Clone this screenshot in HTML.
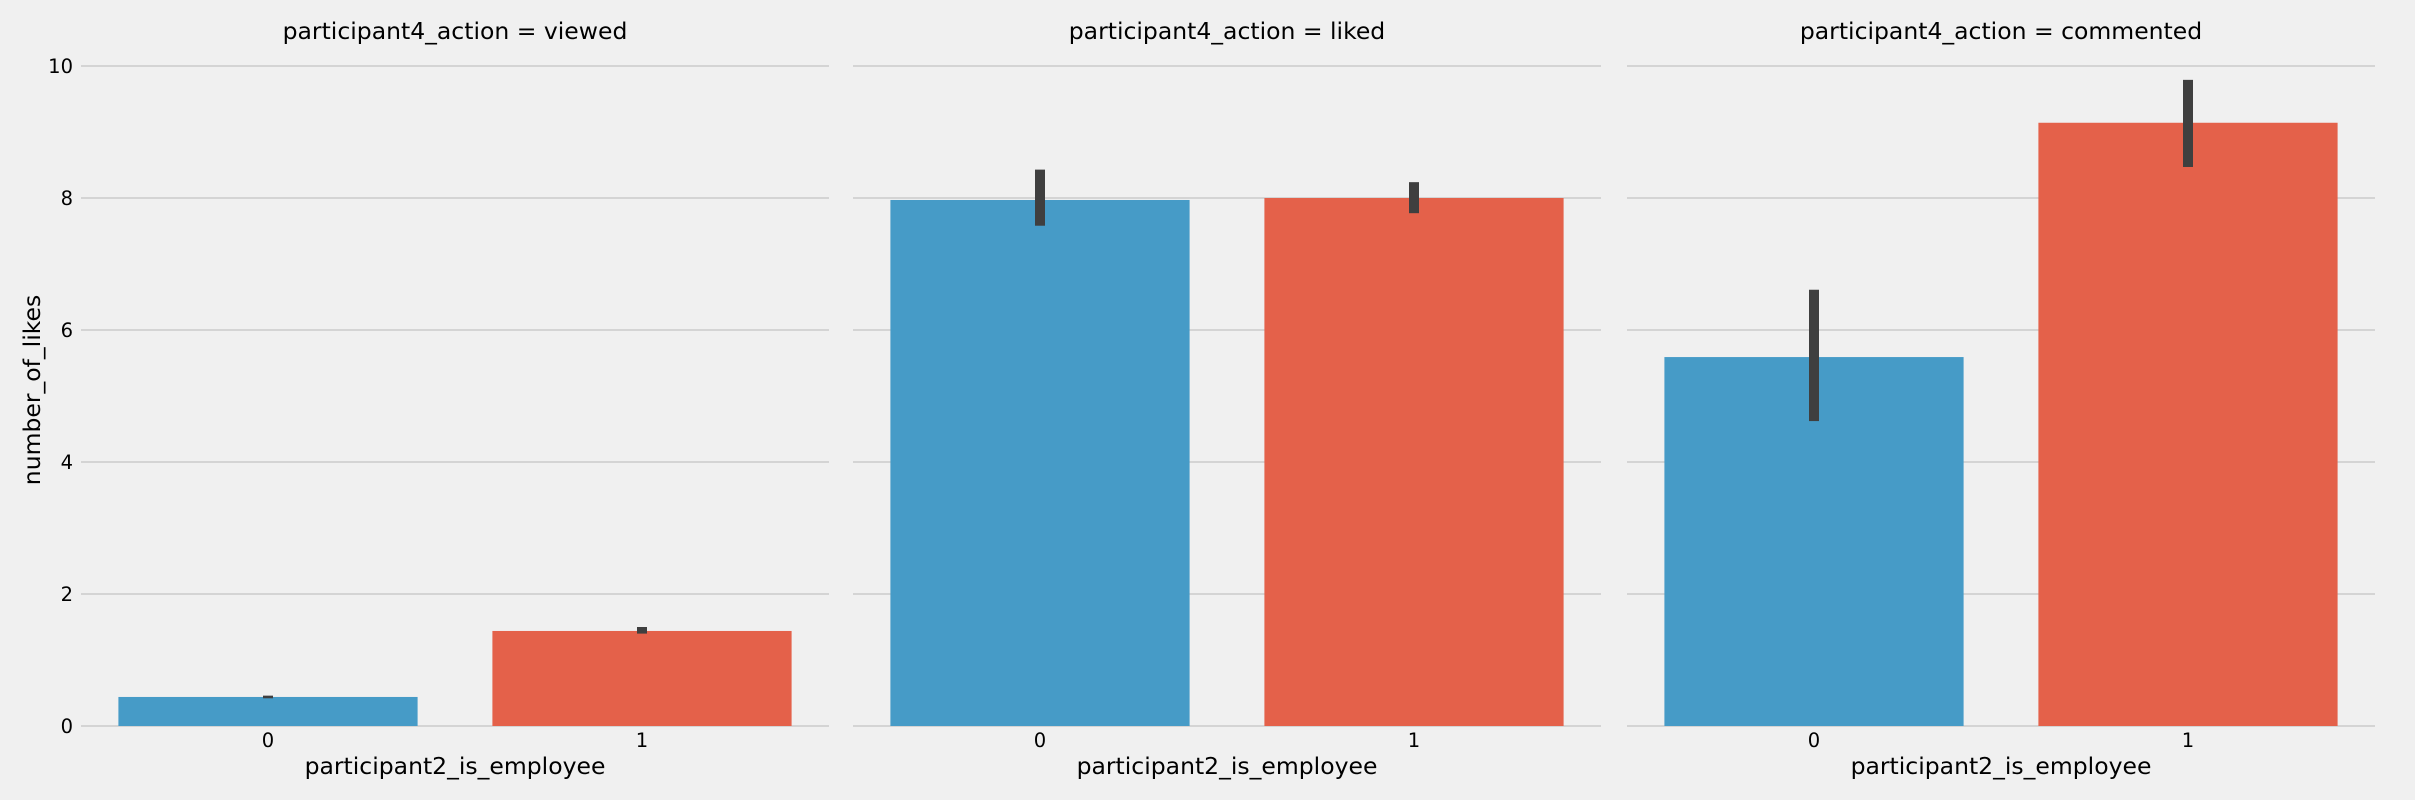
<!DOCTYPE html>
<html><head><meta charset="utf-8"><style>
html,body{margin:0;padding:0;background:#f0f0f0;}
svg{display:block;font-family:"DejaVu Sans","Liberation Sans",sans-serif;}
</style></head><body>
<svg id="chart" width="2415" height="800" viewBox="0 0 2415 800">
<rect width="2415" height="800" fill="#f0f0f0"/>
</svg>
<script>
const panels = ["viewed", "liked", "commented"];
const categories = ["0", "1"];
const means = [[0.44, 1.44], [7.97, 8.0], [5.59, 9.14]];
const ciLow = [[0.42, 1.40], [7.58, 7.77], [4.62, 8.47]];
const ciHigh = [[0.46, 1.50], [8.43, 8.24], [6.61, 9.79]];
const yTicks = [0, 2, 4, 6, 8, 10];
const colors = ["#469bc7", "#e4614a"];

const svg = document.getElementById('chart');
const NS = 'http://www.w3.org/2000/svg';
const panelLeft = [81, 853, 1627];
const panelW = 748;
const yTop = 66, yBot = 726, yMax = 10;
function y(v){ return yBot - (v / yMax) * (yBot - yTop); }
function x(p, i){ return panelLeft[p] + panelW / categories.length * (i + 0.5); }
function mk(tag, attrs, text){
  const e = document.createElementNS(NS, tag);
  for (const k in attrs) e.setAttribute(k, attrs[k]);
  if (text !== undefined) e.textContent = text;
  svg.appendChild(e);
  return e;
}
panels.forEach((name, p) => {
  yTicks.forEach(t => {
    const g = mk('line', {x1: panelLeft[p], x2: panelLeft[p] + panelW, y1: y(t), y2: y(t), stroke: '#cbcbcb', 'stroke-width': 1.5});
    
    
    if (p === 0) {
      const tl = mk('text', {x: 73, y: y(t) + 7, 'text-anchor': 'end', 'font-size': 19.5, fill: '#000'}, String(t));
      
      
    }
  });
  const title = mk('text', {x: panelLeft[p] + panelW / 2, y: 39, 'text-anchor': 'middle', 'font-size': 23.5, fill: '#000'}, 'participant4_action = ' + name);
  
  
  const bw = panelW / categories.length * 0.8;
  categories.forEach((c, i) => {
    const cx = x(p, i);
    const b = mk('rect', {x: cx - bw / 2, y: y(means[p][i]), width: bw, height: y(0) - y(means[p][i]), fill: colors[i]});
    
    
    const e = mk('rect', {x: cx - 5, y: y(ciHigh[p][i]), width: 10, height: y(ciLow[p][i]) - y(ciHigh[p][i]), fill: '#3f3f3f'});
    
    
    const tl = mk('text', {x: cx, y: 747, 'text-anchor': 'middle', 'font-size': 19.5, fill: '#000'}, c);
    
    
  });
  const xl = mk('text', {x: panelLeft[p] + panelW / 2, y: 774, 'text-anchor': 'middle', 'font-size': 23.5, fill: '#000'}, 'participant2_is_employee');
  
  
});
const yl = mk('text', {x: 0, y: 0, 'text-anchor': 'middle', 'font-size': 23.5, fill: '#000', transform: 'translate(40,390) rotate(-90)'}, 'number_of_likes');


</script>
</body></html>
